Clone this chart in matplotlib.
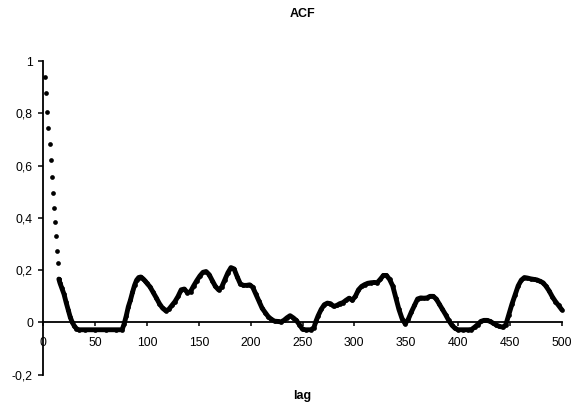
import matplotlib
matplotlib.use("Agg")
import matplotlib.pyplot as plt
from matplotlib.ticker import FuncFormatter

plt.rcParams['font.family'] = ['Liberation Sans', 'DejaVu Sans']

# ---- data ----
# early lags: separate dots
lags_head = [2, 3, 4, 5, 6, 7, 8, 9, 10, 11, 12, 13, 14, 15]
acf_head = [0.938, 0.877, 0.807, 0.746, 0.683, 0.620, 0.558, 0.497, 0.440,
            0.385, 0.329, 0.275, 0.227, 0.166]

# later lags: dense dots forming a thick curve
lags_tail = [15, 16, 18, 20, 22, 24, 26, 28, 30, 32, 34, 40, 50, 60, 70, 76, 78, 80,
             82, 84, 86, 88, 90, 92, 94, 96, 98, 100, 103, 106, 109, 112, 115, 118,
             121, 124, 127, 130, 133, 136, 139, 142, 145, 148, 151, 154, 157, 160,
             163, 166, 169, 172, 175, 178, 181, 184, 187, 190, 193, 196, 199, 202,
             205, 208, 211, 214, 217, 220, 223, 226, 229, 232, 235, 238, 241, 244,
             247, 250, 253, 258, 261, 263, 265, 268, 271, 274, 277, 280, 283, 286,
             289, 292, 295, 298, 301, 304, 307, 310, 313, 316, 319, 322, 325, 328,
             331, 334, 337, 340, 343, 346, 349, 352, 355, 358, 361, 364, 367, 370,
             373, 376, 379, 382, 385, 388, 391, 394, 397, 400, 405, 410, 413, 416,
             419, 422, 425, 428, 431, 434, 437, 440, 443, 446, 449, 452, 455, 458,
             461, 464, 467, 470, 473, 476, 479, 482, 485, 488, 491, 494, 497, 500]
acf_tail = [0.166, 0.152, 0.130, 0.108, 0.077, 0.048, 0.020, 0.000, -0.014, -0.024,
            -0.028, -0.028, -0.028, -0.028, -0.028, -0.028, -0.005, 0.025, 0.060,
            0.085, 0.115, 0.142, 0.162, 0.172, 0.174, 0.168, 0.160, 0.150, 0.136,
            0.115, 0.094, 0.072, 0.055, 0.045, 0.050, 0.065, 0.080, 0.100, 0.125,
            0.128, 0.114, 0.118, 0.140, 0.160, 0.178, 0.192, 0.195, 0.183, 0.160,
            0.138, 0.125, 0.135, 0.162, 0.190, 0.210, 0.205, 0.175, 0.148, 0.142,
            0.142, 0.144, 0.135, 0.108, 0.082, 0.055, 0.038, 0.022, 0.012, 0.005,
            0.004, 0.002, 0.008, 0.018, 0.026, 0.018, 0.008, -0.008, -0.026, -0.028,
            -0.028, -0.020, 0.005, 0.025, 0.050, 0.068, 0.074, 0.072, 0.062, 0.065,
            0.072, 0.076, 0.085, 0.093, 0.085, 0.100, 0.125, 0.138, 0.145, 0.150,
            0.152, 0.153, 0.152, 0.165, 0.180, 0.180, 0.165, 0.140, 0.095, 0.050,
            0.015, -0.005, 0.012, 0.040, 0.065, 0.090, 0.094, 0.093, 0.094, 0.100,
            0.100, 0.090, 0.070, 0.050, 0.030, 0.008, -0.010, -0.022, -0.028, -0.028,
            -0.028, -0.027, -0.018, -0.008, 0.004, 0.008, 0.008, 0.004, -0.003,
            -0.010, -0.015, -0.018, -0.010, 0.030, 0.070, 0.105, 0.140, 0.162,
            0.172, 0.170, 0.167, 0.165, 0.163, 0.158, 0.152, 0.138, 0.120, 0.098,
            0.080, 0.065, 0.049]

title = "ACF"
xlabel = "lag"
x_ticks = [0, 50, 100, 150, 200, 250, 300, 350, 400, 450, 500]
y_ticks = [-0.2, 0, 0.2, 0.4, 0.6, 0.8, 1.0]

W, H = 572, 407
fig = plt.figure(figsize=(W / 100, H / 100), dpi=100)
ax = fig.add_axes([43.3 / W, 1 - 374.7 / H, (561.7 - 43.3) / W, (374.7 - 61.2) / H])

ax.plot(lags_head, acf_head, linestyle='none', marker='o', markersize=3.4,
        color='black', markeredgewidth=0, clip_on=False)
ax.plot(lags_tail, acf_tail, linestyle='-', linewidth=3.5, color='black',
        solid_capstyle='round', solid_joinstyle='round', marker='o',
        markersize=3.4, markeredgewidth=0, clip_on=False)

ax.set_xlim(0, 500)
ax.set_ylim(-0.2, 1.0)
ax.set_xticks(x_ticks)
ax.set_yticks(y_ticks)

def comma(v, pos):
    s = f"{v:g}"
    if s == "-0":
        s = "0"
    return s.replace('.', ',')

ax.yaxis.set_major_formatter(FuncFormatter(comma))
ax.xaxis.set_major_formatter(FuncFormatter(comma))

for s in ('top', 'right'):
    ax.spines[s].set_visible(False)
ax.spines['bottom'].set_position(('data', 0))
ax.spines['left'].set_linewidth(1.3)
ax.spines['bottom'].set_linewidth(1.3)

ax.tick_params(axis='x', direction='out', length=3, width=1.1, pad=7.5,
               labelsize=8.8, colors='black')
ax.tick_params(axis='y', direction='out', length=3.5, width=1.1, pad=4,
               labelsize=8.8, colors='black')

fig.text(302.5 / W, 1 - 14 / H, title, ha='center', va='center',
         fontsize=9, fontweight='bold')
fig.text(302.5 / W, 1 - 396 / H, xlabel, ha='center', va='center',
         fontsize=9, fontweight='bold')

fig.savefig("out.png", dpi=100)
